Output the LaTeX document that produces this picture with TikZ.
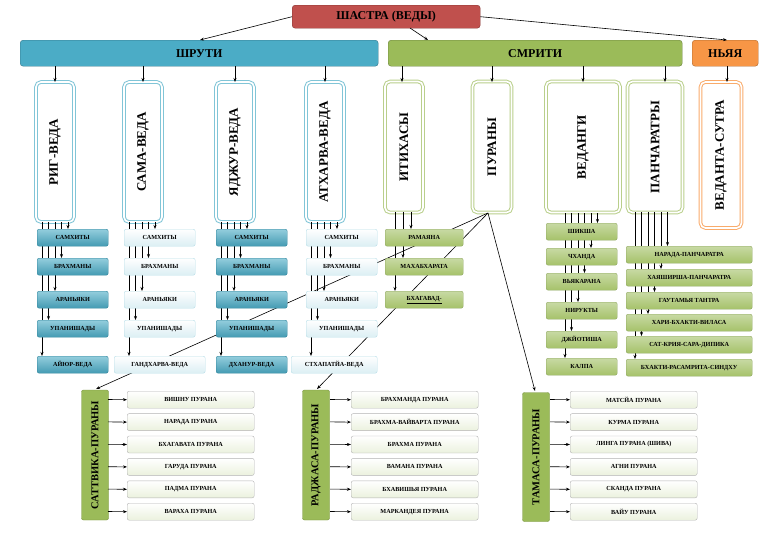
\documentclass[tikz,border=0pt]{standalone}
\usepackage{fontspec}
\setmainfont{Liberation Serif}
\usetikzlibrary{arrows.meta}
\definecolor{cred}{HTML}{C0504D}
\definecolor{cblue}{HTML}{4BACC6}
\definecolor{cgreen}{HTML}{9BBB59}
\definecolor{corange}{HTML}{F79646}
\definecolor{bdark}{HTML}{31859C}
\definecolor{gdark}{HTML}{76923C}
\begin{document}
\begin{tikzpicture}[x=1pt,y=-1pt,
  ar/.style={-{Stealth[length=4pt,width=3pt]},line width=0.6pt},
  ln/.style={line width=0.6pt},
  top/.style={draw=#1!70!black,fill=#1,rounded corners=3pt,anchor=north west,inner sep=0,font=\bfseries\fontsize{12}{13}\selectfont},
  vb/.style={draw=#1,double=white,double distance=1.6pt,line width=1pt,fill=white,rounded corners=5pt,rotate=90,inner sep=0,font=\bfseries\fontsize{13}{14}\selectfont},
  row/.style={rounded corners=2pt,anchor=north west,inner sep=0,minimum height=17pt,font=\bfseries\fontsize{6.2}{7}\selectfont},
  rB/.style={row,draw=bdark,top color=cblue!60,bottom color=cblue!90!black},
  rL/.style={row,draw=cblue!40,top color=white,bottom color=cblue!20},
  rG/.style={row,draw=gdark!80,top color=cgreen!55,bottom color=cgreen!90},
  rP/.style={row,draw=gray!60,top color=white,bottom color=cgreen!20,minimum width=127pt},
  gv/.style={draw=gdark,fill=cgreen,rounded corners=2pt,rotate=90,inner sep=0,font=\bfseries\fontsize{10.5}{11}\selectfont},
]
\useasboundingbox (0,0) rectangle (777,533);
% top level
\node[top=cred,minimum width=188pt,minimum height=23pt] (sh) at (292,5) {ШАСТРА (ВЕДЫ)};
\node[top=cblue,minimum width=358pt,minimum height=26pt] (sr) at (20,40) {ШРУТИ};
\node[top=cgreen,minimum width=294pt,minimum height=26pt] (sm) at (388,40) {СМРИТИ};
\node[top=corange,minimum width=66pt,minimum height=26pt] (ny) at (692,40) {НЬЯЯ};
\draw[ar] (sh.west) -- (200,40);
\draw[ar] (410,28) -- (428,40);
\draw[ar] (sh.east) -- (727,40);
% vertical boxes
\node[vb=cblue!70,minimum width=140pt,minimum height=38pt] (rig) at (55,152) {РИГ-ВЕДА};
\node[vb=cblue!70,minimum width=140pt,minimum height=38pt] (sama) at (143,152) {САМА-ВЕДА};
\node[vb=cblue!70,minimum width=140pt,minimum height=38pt] (yaj) at (235,152) {ЯДЖУР-ВЕДА};
\node[vb=cblue!70,minimum width=140pt,minimum height=38pt] (ath) at (325,152) {АТХАРВА-ВЕДА};
\node[vb=cgreen!70,minimum width=131pt,minimum height=38pt] (iti) at (404,147) {ИТИХАСЫ};
\node[vb=cgreen!70,minimum width=131pt,minimum height=39pt] (pur) at (492,147) {ПУРАНЫ};
\node[vb=cgreen!70,minimum width=131pt,minimum height=74pt] (ved) at (583,147) {ВЕДАНГИ};
\node[vb=cgreen!70,minimum width=131pt,minimum height=55pt] (pan) at (655,147) {ПАНЧАРАТРЫ};
\node[vb=corange!80,minimum width=146pt,minimum height=41pt] (vs) at (721,155) {ВЕДАНТА-СУТРА};
\foreach \x in {55,143,235,325} \draw[ar] (\x,66) -- (\x,82);
\foreach \x in {402,492,583,665} \draw[ar] (\x,66) -- (\x,82);
\draw[ar] (727,66) -- (727,82);
% bundle lines vedas
\foreach \L in {37,124,216,306}{
  \foreach \dx/\y in {5/356,11.5/320,18/291,24.5/258,31/229}
    \draw[ar] (\L+\dx,222) -- (\L+\dx,\y);
}
\foreach \x/\y in {395/291,403/258,411/229} \draw[ar] (\x,212) -- (\x,\y);
\foreach \x/\y in {565/358,571.5/331,578/302,584.5/273,591/248,597.5/223} \draw[ar] (\x,213) -- (\x,\y);
\foreach \x/\y in {635/359,641.5/336,648/314,654.5/292,661/269,667.5/246} \draw[ar] (\x,212) -- (\x,\y);
% purana diagonals
\coordinate (pb) at (488,213);
\draw[ar] (pb) -- (96,389);
\draw[ar] (pb) -- (317,389);
\draw[ar] (pb) -- (535,391);
% veda rows
\foreach \L/\s in {37/rB,124/rL,216/rB,306/rL}{
  \node[\s,minimum width=71pt] at (\L,229) {САМХИТЫ};
  \node[\s,minimum width=71pt] at (\L,258) {БРАХМАНЫ};
  \node[\s,minimum width=71pt] at (\L,291) {АРАНЬЯКИ};
  \node[\s,minimum width=71pt] at (\L,320) {УПАНИШАДЫ};
}
\node[rB,minimum width=71pt] (ay) at (37,356) {АЙЮР-ВЕДА};
\node[rL,minimum width=91pt] (ga) at (114,356) {ГАНДХАРВА-ВЕДА};
\node[rB,minimum width=71pt] (dh) at (216,356) {ДХАНУР-ВЕДА};
\node[rL,minimum width=86pt] (st) at (291,356) {СТХАПАТЙА-ВЕДА};
% itihasa rows
\node[rG,minimum width=78pt] at (385,229) {РАМАЯНА};
\node[rG,minimum width=78pt] at (385,258) {МАХАБХАРАТА};
\node[rG,minimum width=78pt] at (385,291) {\underline{БХАГАВАД-}};
% vedangi rows
\foreach \y/\t in {223/ШИКША,248/ЧХАНДА,273/ВЬЯКАРАНА,302/НИРУКТЫ,331/ДЖЙОТИША,358/КАЛПА}
  \node[rG,minimum width=71pt] at (546,\y) {\t};
% pancharatra rows
\foreach \y/\t in {246/НАРАДА-ПАНЧАРАТРА,269/ХАЯШИРША-ПАНЧАРАТРА,292/ГАУТАМЬЯ ТАНТРА,314/ХАРИ-БХАКТИ-ВИЛАСА,336/САТ-КРИЯ-САРА-ДИПИКА,359/БХАКТИ-РАСАМРИТА-СИНДХУ}
  \node[rG,minimum width=126pt] at (626,\y) {\t};
% purana groups
\node[gv,minimum width=130pt,minimum height=27pt] (sat) at (95,455) {САТТВИКА-ПУРАНЫ};
\node[gv,minimum width=130pt,minimum height=27pt] (raj) at (316,455) {РАДЖАСА-ПУРАНЫ};
\node[gv,minimum width=129pt,minimum height=27pt] (tam) at (536,457) {ТАМАСА-ПУРАНЫ};
\foreach \g/\gx/\bx/\items in {
  sat/108/127/{ВИШНУ ПУРАНА,НАРАДА ПУРАНА,БХАГАВАТА ПУРАНА,ГАРУДА ПУРАНА,ПАДМА ПУРАНА,ВАРАХА ПУРАНА},
  raj/330/351/{БРАХМАНДА ПУРАНА,БРАХМА-ВАЙВАРТА ПУРАНА,БРАХМА ПУРАНА,ВАМАНА ПУРАНА,БХАВИШЬЯ ПУРАНА,МАРКАНДЕЯ ПУРАНА},
  tam/550/570/{МАТСЙА ПУРАНА,КУРМА ПУРАНА,ЛИНГА ПУРАНА (ШИВА),АГНИ ПУРАНА,СКАНДА ПУРАНА,ВАЙУ ПУРАНА}}{
  \foreach \t [count=\i from 0] in \items {
    \node[rP] (\g\i) at (\bx,391+22.4*\i) {\t};
    \draw[ar] (\gx,399.5+22.4*\i) -- (\g\i.west);
  }
}
\end{tikzpicture}
\end{document}
